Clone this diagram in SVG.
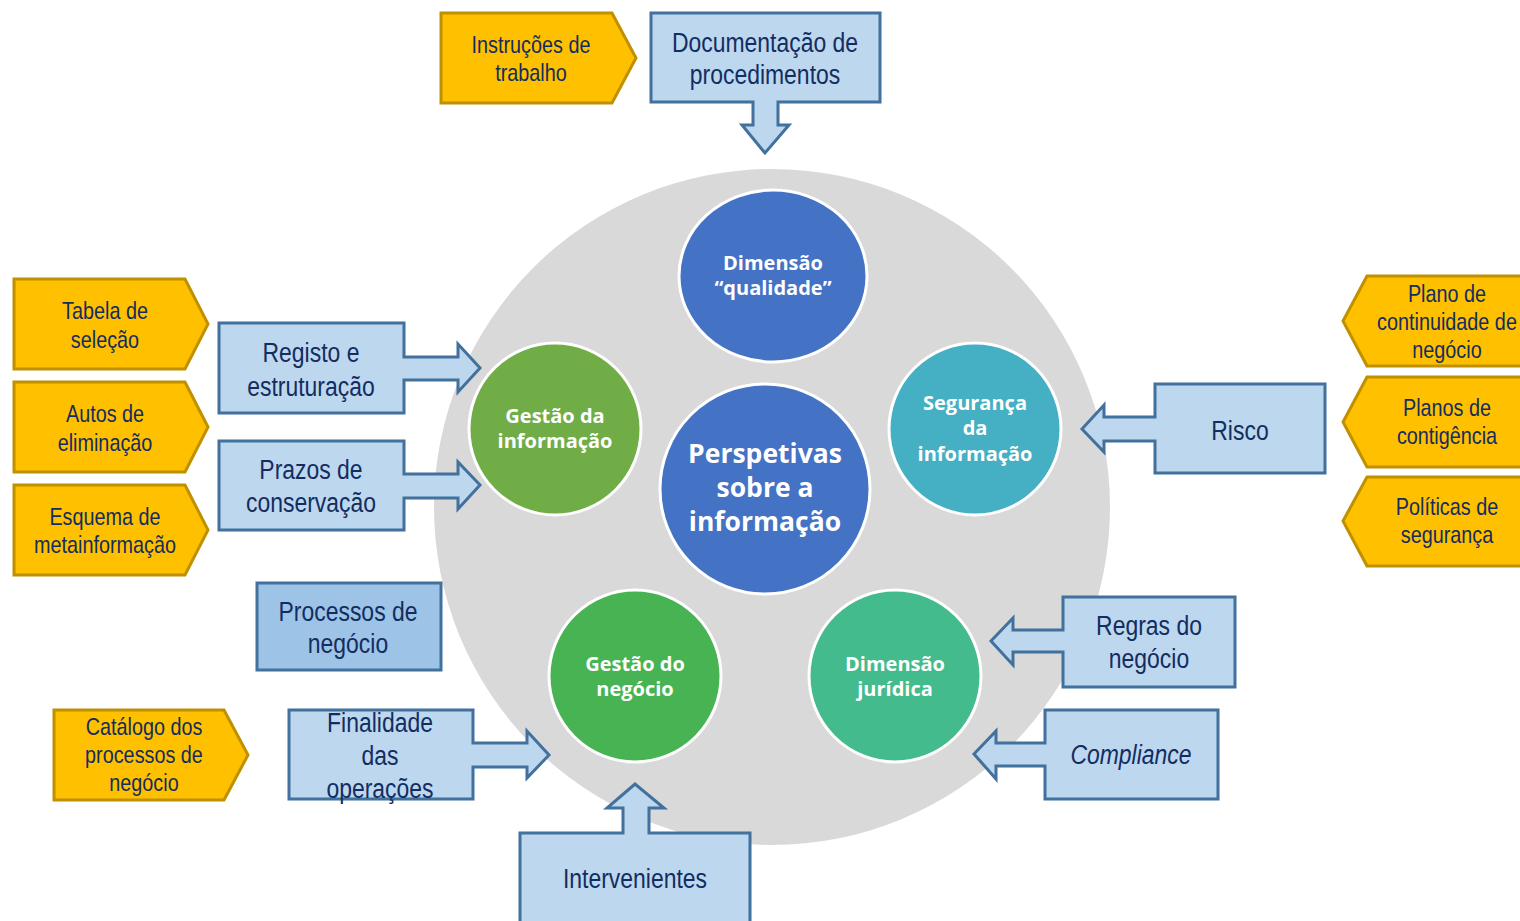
<svg xmlns="http://www.w3.org/2000/svg" width="1520" height="921" viewBox="0 0 1520 921">
<style>
.bg{fill:#d9d9d9}
.c{stroke:#ffffff;stroke-width:3}
.ct{font-family:"Open Sans","Noto Sans","Liberation Sans",sans-serif;font-weight:bold;fill:#ffffff;text-anchor:middle;font-size:20px}
.big{font-size:26.5px}
.box{fill:#bdd7ee;stroke:#41719c;stroke-width:3;stroke-linejoin:miter}
.box2{fill:#9dc3e6;stroke:#41719c;stroke-width:3}
.yel{fill:#ffc000;stroke:#bf9000;stroke-width:3}
.t{font-family:"Liberation Sans Narrow","Arial Narrow","Liberation Sans",sans-serif;fill:#132d61;text-anchor:middle}
.tb{font-size:27px}
.ty{font-size:24px}
</style>
<rect width="1520" height="921" fill="#ffffff"/>
<circle class="bg" cx="772" cy="507" r="338"/>

<g id="connectors">
<path id="a-doc" class="box" d="M651,13 H880 V102 H778 V125 H789 L765,153 L742,125 H753 V102 H651 Z"/>
<path id="a-reg" class="box" d="M219,323 H404 V357 H458 V344 L480,368 L458,392 V380 H404 V413 H219 Z"/>
<path id="a-praz" class="box" d="M219,441 H404 V474 H458 V462 L480,485 L458,509 V498 H404 V530 H219 Z"/>
<path id="a-fin" class="box" d="M289,710 H473 V743 H527 V731 L549,755 L527,778 V767 H473 V799 H289 Z"/>
<path id="a-int" class="box" d="M520,833 H623 V808 H607 L635,784 L664,808 H649 V833 H750 V930 H520 Z"/>
<path id="a-risco" class="box" d="M1155,384 H1325 V473 H1155 V441 H1104 V452 L1082,429 L1104,405 V417 H1155 Z"/>
<path id="a-regras" class="box" d="M1063,597 H1235 V687 H1063 V652 H1013 V665 L991,641 L1013,618 V630 H1063 Z"/>
<path id="a-comp" class="box" d="M1045,710 H1218 V799 H1045 V766 H996 V779 L974,754 L996,731 V743 H1045 Z"/>
</g>

<g id="n-qualidade">
<ellipse class="c" cx="773" cy="276" rx="94" ry="86" fill="#4472c4"/>
<text class="ct" x="773" y="270">Dimensão</text>
<text class="ct" x="773" y="295">“qualidade”</text>
</g>
<g id="n-gestao-info">
<circle class="c" cx="555" cy="429" r="86" fill="#70ad47"/>
<text class="ct" x="555" y="423">Gestão da</text>
<text class="ct" x="555" y="448">informação</text>
</g>
<g id="n-seguranca">
<circle class="c" cx="975" cy="429" r="86" fill="#45afc3"/>
<text class="ct" x="975" y="410">Segurança</text>
<text class="ct" x="975" y="435">da</text>
<text class="ct" x="975" y="461">informação</text>
</g>
<g id="n-perspetivas">
<ellipse class="c" cx="765" cy="489" rx="105" ry="105" fill="#4472c4"/>
<text class="ct big" x="765" y="463">Perspetivas</text>
<text class="ct big" x="765" y="497">sobre a</text>
<text class="ct big" x="765" y="531">informação</text>
</g>
<g id="n-gestao-neg">
<circle class="c" cx="635" cy="676" r="86" fill="#47b352"/>
<text class="ct" x="635" y="671">Gestão do</text>
<text class="ct" x="635" y="696">negócio</text>
</g>
<g id="n-juridica">
<circle class="c" cx="895" cy="676" r="86" fill="#43bb8c"/>
<text class="ct" x="895" y="671">Dimensão</text>
<text class="ct" x="895" y="696">jurídica</text>
</g>

<g id="n-doc" transform="matrix(0.85 0 0 1 114.75 0)">
<text class="t tb" x="765" y="52">Documentação de</text>
<text class="t tb" x="765" y="84">procedimentos</text>
</g>
<g id="n-instr">
<path class="yel" d="M441,13 H612 L636,58 L612,103 H441 Z"/>
<g transform="matrix(0.825 0 0 1 92.925 0)">
<text class="t ty" x="531" y="53">Instruções de</text>
<text class="t ty" x="531" y="81">trabalho</text>
</g>
</g>
<g id="n-tabela">
<path class="yel" d="M14,279 H185 L208,324 L185,369 H14 Z"/>
<g transform="matrix(0.825 0 0 1 18.375 0)">
<text class="t ty" x="105" y="319">Tabela de</text>
<text class="t ty" x="105" y="348">seleção</text>
</g>
</g>
<g id="n-autos">
<path class="yel" d="M14,382 H185 L208,427 L185,472 H14 Z"/>
<g transform="matrix(0.825 0 0 1 18.375 0)">
<text class="t ty" x="105" y="422">Autos de</text>
<text class="t ty" x="105" y="451">eliminação</text>
</g>
</g>
<g id="n-esquema">
<path class="yel" d="M14,485 H185 L208,530 L185,575 H14 Z"/>
<g transform="matrix(0.825 0 0 1 18.375 0)">
<text class="t ty" x="105" y="525">Esquema de</text>
<text class="t ty" x="105" y="553">metainformação</text>
</g>
</g>
<g id="n-registo" transform="matrix(0.85 0 0 1 46.65 0)">
<text class="t tb" x="311" y="362">Registo e</text>
<text class="t tb" x="311" y="396">estruturação</text>
</g>
<g id="n-prazos" transform="matrix(0.85 0 0 1 46.65 0)">
<text class="t tb" x="311" y="479">Prazos de</text>
<text class="t tb" x="311" y="512">conservação</text>
</g>
<g id="n-processos">
<rect class="box2" x="257" y="583" width="184" height="87"/>
<g transform="matrix(0.85 0 0 1 52.2 0)">
<text class="t tb" x="348" y="621">Processos de</text>
<text class="t tb" x="348" y="653">negócio</text>
</g>
</g>
<g id="n-catalogo">
<path class="yel" d="M54,710 H224 L248,755 L224,800 H54 Z"/>
<g transform="matrix(0.825 0 0 1 25.2 0)">
<text class="t ty" x="144" y="735">Catálogo dos</text>
<text class="t ty" x="144" y="763">processos de</text>
<text class="t ty" x="144" y="791">negócio</text>
</g>
</g>
<g id="n-finalidade" transform="matrix(0.85 0 0 1 57 0)">
<text class="t tb" x="380" y="732">Finalidade</text>
<text class="t tb" x="380" y="765">das</text>
<text class="t tb" x="380" y="798">operações</text>
</g>
<g id="n-intervenientes" transform="matrix(0.85 0 0 1 95.25 0)">
<text class="t tb" x="635" y="888">Intervenientes</text>
</g>
<g id="n-risco" transform="matrix(0.85 0 0 1 186 0)">
<text class="t tb" x="1240" y="440">Risco</text>
</g>
<g id="n-plano">
<path class="yel" d="M1525,276 H1367 L1343,321 L1367,366 H1525 Z"/>
<g transform="matrix(0.825 0 0 1 253.225 0)">
<text class="t ty" x="1447" y="302">Plano de</text>
<text class="t ty" x="1447" y="330">continuidade de</text>
<text class="t ty" x="1447" y="358">negócio</text>
</g>
</g>
<g id="n-planos">
<path class="yel" d="M1525,377 H1367 L1343,422 L1367,467 H1525 Z"/>
<g transform="matrix(0.825 0 0 1 253.225 0)">
<text class="t ty" x="1447" y="416">Planos de</text>
<text class="t ty" x="1447" y="444">contigência</text>
</g>
</g>
<g id="n-politicas">
<path class="yel" d="M1525,477 H1367 L1343,521 L1367,566 H1525 Z"/>
<g transform="matrix(0.825 0 0 1 253.225 0)">
<text class="t ty" x="1447" y="515">Políticas de</text>
<text class="t ty" x="1447" y="543">segurança</text>
</g>
</g>
<g id="n-regras" transform="matrix(0.85 0 0 1 172.35 0)">
<text class="t tb" x="1149" y="635">Regras do</text>
<text class="t tb" x="1149" y="668">negócio</text>
</g>
<g id="n-compliance" transform="matrix(0.85 0 0 1 169.65 0)">
<text class="t tb" x="1131" y="764" font-style="italic">Compliance</text>
</g>
</svg>
